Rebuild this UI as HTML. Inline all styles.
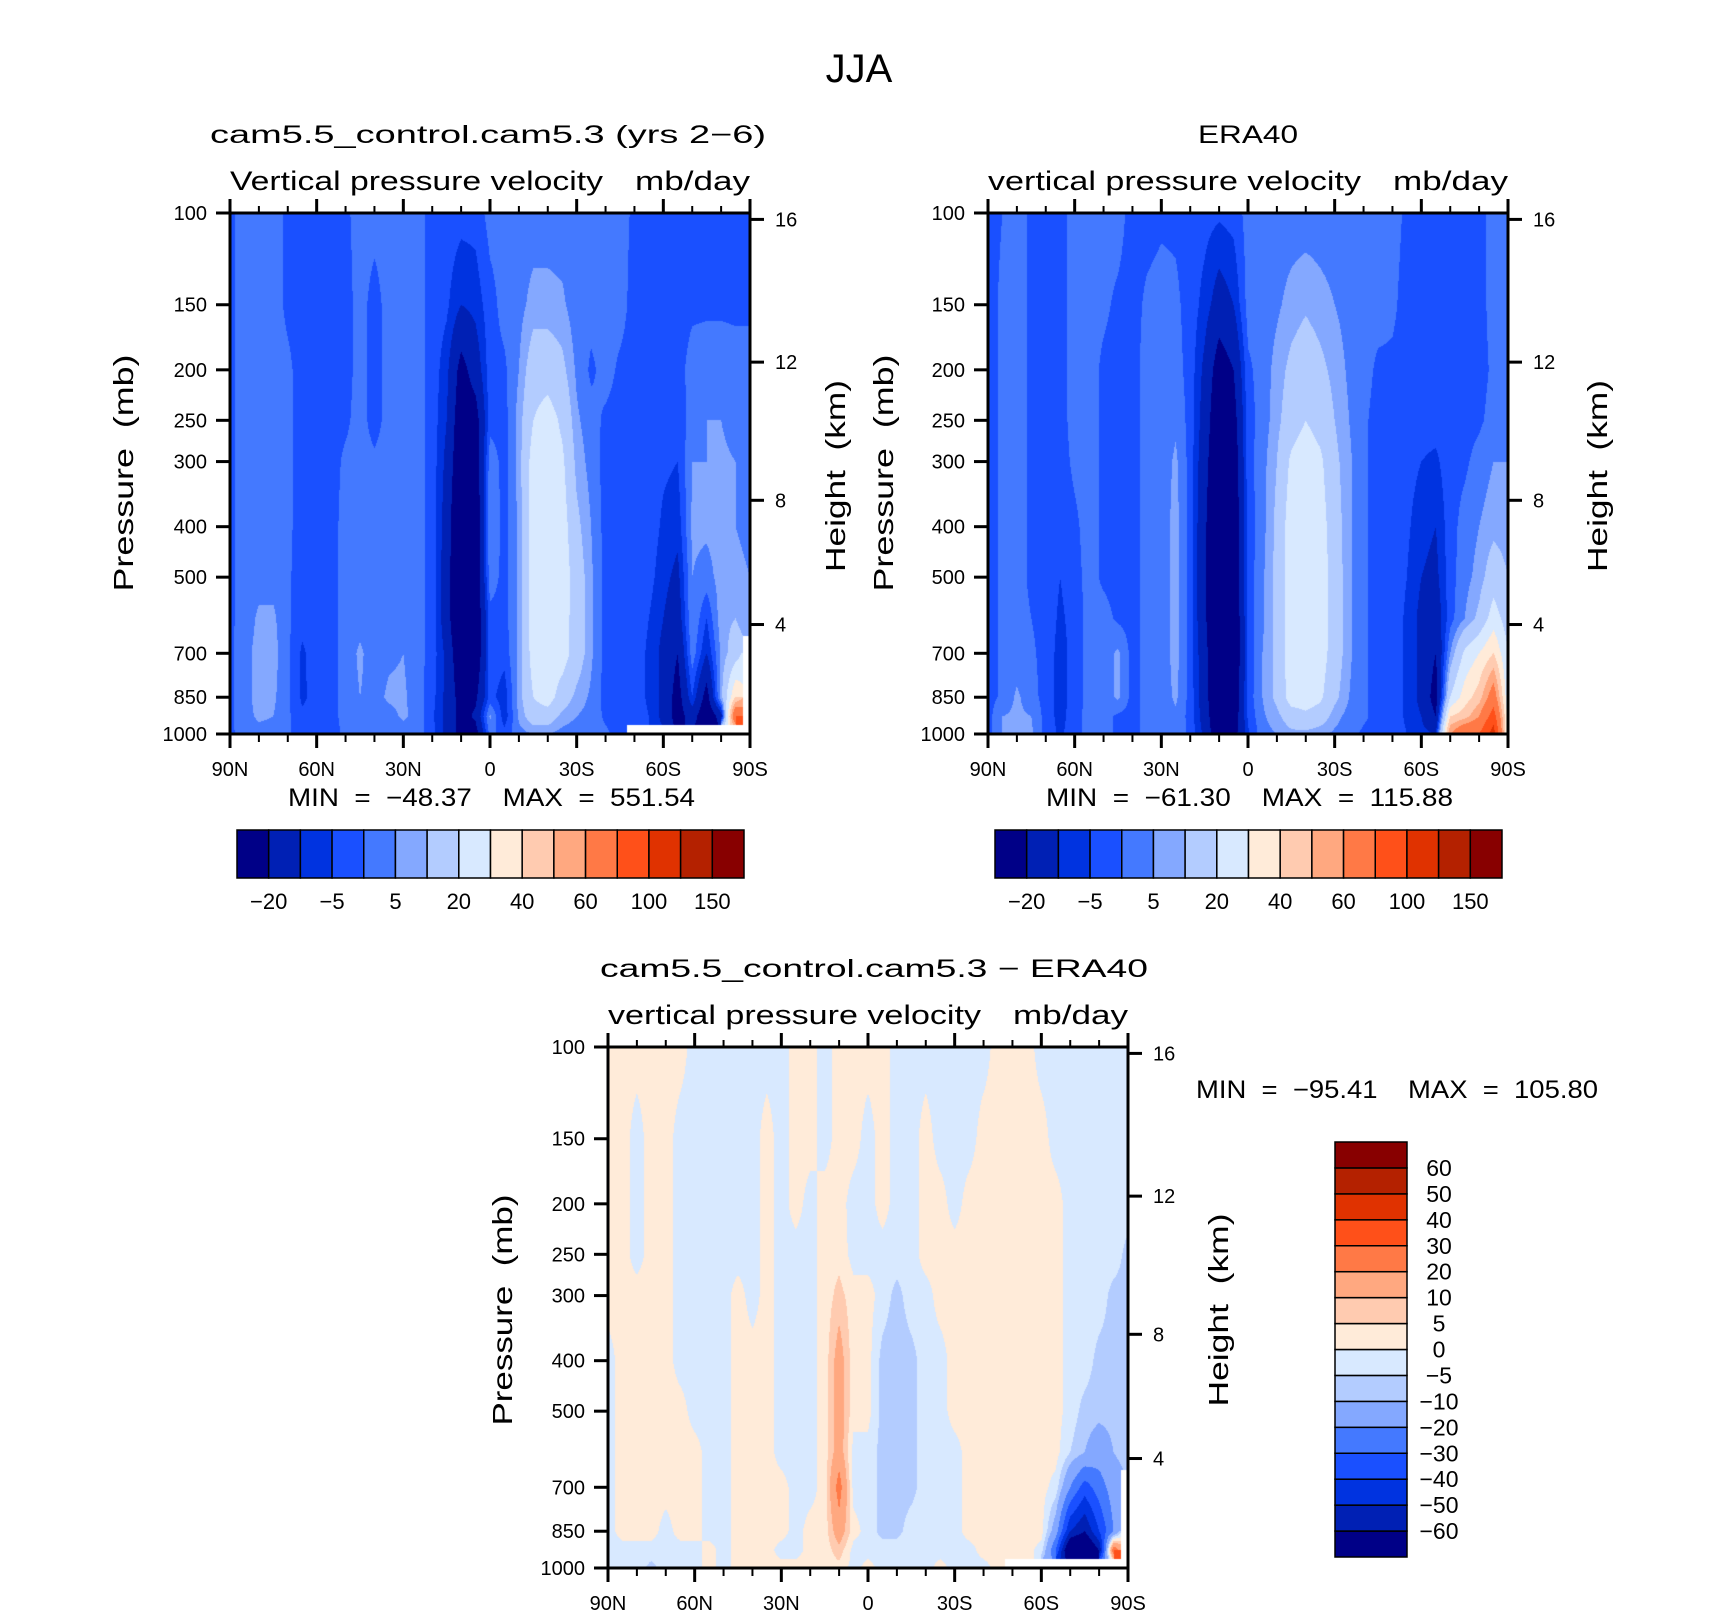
<!DOCTYPE html>
<html><head><meta charset="utf-8"><style>
html,body{margin:0;padding:0;background:#fff;}
#wrap{position:relative;width:1710px;height:1616px;overflow:hidden;background:#fff;}
canvas{position:absolute;}
svg{position:absolute;left:0;top:0;}
text{font-family:"Liberation Sans",sans-serif;fill:#000;white-space:pre;}
</style></head><body>
<div id="wrap">
<canvas id="c1" width="520" height="521" style="left:230px;top:213px"></canvas>
<canvas id="c2" width="520" height="521" style="left:988px;top:213px"></canvas>
<canvas id="c3" width="520" height="521" style="left:608px;top:1047px"></canvas>
<svg id="svg" width="1710" height="1616" xmlns="http://www.w3.org/2000/svg">
<text x="859" y="82" font-size="40" text-anchor="middle">JJA</text>
<text x="210" y="143" font-size="25" textLength="556" lengthAdjust="spacingAndGlyphs">cam5.5_control.cam5.3 (yrs 2−6)</text>
<text x="230" y="190" font-size="27" textLength="373" lengthAdjust="spacingAndGlyphs">Vertical pressure velocity</text>
<text x="635" y="190" font-size="27" textLength="115" lengthAdjust="spacingAndGlyphs">mb/day</text>
<text x="1248" y="143" font-size="25" text-anchor="middle" textLength="100" lengthAdjust="spacingAndGlyphs">ERA40</text>
<text x="988" y="190" font-size="27" textLength="373" lengthAdjust="spacingAndGlyphs">vertical pressure velocity</text>
<text x="1393" y="190" font-size="27" textLength="115" lengthAdjust="spacingAndGlyphs">mb/day</text>
<text x="600" y="977" font-size="25" textLength="548" lengthAdjust="spacingAndGlyphs">cam5.5_control.cam5.3 − ERA40</text>
<text x="608" y="1024" font-size="27" textLength="373" lengthAdjust="spacingAndGlyphs">vertical pressure velocity</text>
<text x="1013" y="1024" font-size="27" textLength="115" lengthAdjust="spacingAndGlyphs">mb/day</text>
<text x="288" y="806" font-size="25" textLength="407" lengthAdjust="spacingAndGlyphs" xml:space="preserve">MIN  =  −48.37    MAX  =  551.54</text>
<text x="1046" y="806" font-size="25" textLength="407" lengthAdjust="spacingAndGlyphs" xml:space="preserve">MIN  =  −61.30    MAX  =  115.88</text>
<text x="1196" y="1098" font-size="25" textLength="402" lengthAdjust="spacingAndGlyphs" xml:space="preserve">MIN  =  −95.41    MAX  =  105.80</text>
<text transform="translate(133,473) rotate(-90)" font-size="28" text-anchor="middle" textLength="237" lengthAdjust="spacingAndGlyphs" xml:space="preserve">Pressure  (mb)</text>
<text transform="translate(845,476) rotate(-90)" font-size="28" text-anchor="middle" textLength="192" lengthAdjust="spacingAndGlyphs" xml:space="preserve">Height  (km)</text>
<text transform="translate(893,473) rotate(-90)" font-size="28" text-anchor="middle" textLength="237" lengthAdjust="spacingAndGlyphs" xml:space="preserve">Pressure  (mb)</text>
<text transform="translate(1607,476) rotate(-90)" font-size="28" text-anchor="middle" textLength="192" lengthAdjust="spacingAndGlyphs" xml:space="preserve">Height  (km)</text>
<text transform="translate(512,1310) rotate(-90)" font-size="28" text-anchor="middle" textLength="231" lengthAdjust="spacingAndGlyphs" xml:space="preserve">Pressure  (mb)</text>
<text transform="translate(1228,1310) rotate(-90)" font-size="28" text-anchor="middle" textLength="193" lengthAdjust="spacingAndGlyphs" xml:space="preserve">Height  (km)</text>
</svg>
</div>
<script>
const LEVELS=[1000,925,850,700,600,500,400,300,250,200,150,100];
const LATITUDES=[90,85,80,75,70,65,60,55,50,45,40,35,30,25,20,15,10,5,0,-5,-10,-15,-20,-25,-30,-35,-40,-45,-50,-55,-60,-65,-70,-75,-80,-85,-90];
const N=NaN;
// each column: values at LEVELS (1000 -> 100 mb), mb/day
const modelField=[
[-1,-1,-1,-1,-1,-1,-1,-1,-1,-1,-1,-1],
[2,3,3,3,2,2,2,2,2,2,2,2],
[3,6,7,7,6,3,2,2,2,2,2,2],
[3,5,6,7,6,3,2,2,2,2,2,2],
[1,1,1,1,1,1,1,1,1,1,-1,-1],
[-3,-4,-6,-6,-3,-3,-2,-2,-2,-2,-2,-3],
[-2,-3,-3,-2,-2,-2,-2,-2,-2,-2,-2,-2],
[-2,-2,-2,-2,-2,-2,-2,-2,-2,-2,-2,-2],
[1,2,2,2,2,2,2,1,-1,-2,-2,-1],
[2,3,5,6,3,2,2,2,2,2,2,2],
[2,2,3,2,2,2,2,1,-2,-2,-2,2],
[2,3,6,4,3,2,2,2,2,2,2,2],
[2,6,6,5,3,2,2,2,2,2,2,2],
[2,3,2,2,2,2,2,2,2,2,2,2],
[-3,-4,-3,-2,-2,-2,-2,-2,-2,-2,-2,-2],
[-12,-12,-12,-12,-15,-15,-14,-12,-10,-8,-4,-2],
[-25,-25,-25,-30,-35,-35,-35,-30,-28,-24,-10,-3],
[-25,-18,-22,-30,-30,-30,-30,-28,-25,-15,-8,-3],
[2,6,-3,-2,-2,3,5,3,-2,-2,-2,2],
[-3,-8,-8,-3,-2,-2,-2,-2,-2,-1,2,2],
[3,6,7,6,6,6,6,7,7,5,3,2],
[5,15,20,25,26,26,26,25,20,15,7,2],
[5,15,25,25,26,26,26,26,25,15,7,2],
[3,8,15,25,25,26,25,22,18,12,6,2],
[2,5,8,15,15,15,12,8,6,4,2,2],
[2,3,4,6,6,6,5,3,2,-1,2,2],
[1,-1,-2,-2,-2,-2,-2,-2,-1,2,2,2],
[-2,-2,-2,-2,-2,-2,-2,-2,-2,-1,2,2],
[N,-2,-2,-2,-2,-2,-2,-2,-2,-2,-2,-1],
[N,-5,-6,-6,-5,-3,-2,-2,-2,-2,-2,-2],
[N,-12,-12,-12,-10,-8,-6,-4,-2,-2,-2,-2],
[N,-25,-25,-20,-15,-12,-8,-5,-3,-2,-2,-2],
[N,-15,-5,3,5,5,6,5,2,2,-1,-2],
[N,-30,-25,-10,-5,3,6,5,5,3,-1,-2],
[N,-15,8,6,8,7,7,6,5,3,-1,-2],
[N,80,40,15,10,6,5,5,3,2,-1,-2],
[N,N,N,N,5,5,4,3,2,2,-1,-2]
];
const eraField=[
[-2,-2,-2,-2,-2,-2,-2,-2,-2,-2,-2,-2],
[5,5,1,1,1,1,1,1,1,1,1,0],
[7,6,6,2,2,2,2,2,2,2,2,2],
[6,5,2,1,0,-1,-1,-1,-1,-1,-1,-1],
[-2,-2,-2,-2,-2,-2,-2,-2,-2,-2,-2,-2],
[-6,-7,-7,-7,-6,-5,-3,-2,-2,-2,-2,-2],
[-2,-2,-3,-3,-3,-2,-1,1,2,2,2,2],
[2,2,2,2,2,2,2,2,2,2,2,2],
[2,2,2,2,2,-1,-1,-1,-1,-1,1,2],
[-1,-1,6,6,-1,-2,-2,-2,-2,-2,-1,2],
[-2,-2,-2,-2,-2,-2,-2,-2,-2,-2,-2,-2],
[2,2,2,2,2,2,2,2,2,2,1,-2],
[2,2,2,2,2,2,2,2,2,2,2,-1],
[3,4,6,7,7,7,7,6,4,2,1,-1],
[-1,-2,-2,-2,-2,-2,-2,-2,-2,-2,-2,-2],
[-12,-14,-15,-16,-18,-18,-18,-16,-14,-12,-7,-3],
[-30,-32,-35,-35,-35,-35,-35,-32,-30,-26,-14,-4],
[-25,-28,-30,-32,-32,-30,-30,-28,-25,-20,-10,-3],
[-6,-4,-3,-4,-3,-3,-3,-2,-2,-1,2,2],
[3,4,5,5,4,4,3,3,2,2,2,2],
[5,8,12,12,12,12,12,10,8,7,4,2],
[8,15,25,26,26,26,26,22,15,12,7,2],
[8,18,25,26,26,26,26,26,20,15,9,2],
[6,15,22,25,26,26,25,22,16,12,7,2],
[4,7,12,15,15,15,14,12,10,8,5,2],
[2,3,5,6,6,6,6,6,5,4,3,2],
[-1,1,1,1,1,1,1,1,1,2,2,2],
[-2,-2,-2,-2,-2,-2,-2,-2,-2,-1,2,2],
[-2,-2,-2,-2,-2,-2,-2,-2,-2,-1,1,2],
[-5,-6,-6,-6,-6,-5,-4,-3,-2,-2,-2,-1],
[-8,-10,-12,-12,-12,-10,-8,-5,-3,-2,-2,-2],
[-10,-20,-25,-20,-15,-12,-10,-6,-3,-2,-2,-2],
[60,40,20,5,-2,-2,-2,-2,-2,-2,-2,-2],
[80,45,35,22,5,3,2,-1,-2,-2,-2,-2],
[80,60,45,30,12,7,5,2,-1,-2,-2,-2],
[110,90,70,40,25,15,8,5,2,1,2,2],
[25,25,22,20,15,10,7,5,2,1,2,2]
];
const diffField=[
[-2,-2,-2,-2,-2,-2,-2,2,2,2,2,2],
[-2,-2,2,2,2,2,2,2,2,2,2,2],
[-2,-2,2,2,2,2,2,2,-2,-2,-2,2],
[-7,-2,2,2,2,2,2,2,2,2,2,2],
[-2,-2,-2,2,2,2,2,2,2,2,2,2],
[-2,-2,2,2,2,2,-2,-2,-2,-2,-2,2],
[-2,-2,2,2,2,-2,-2,-2,-2,-2,-2,-2],
[2,2,-2,-2,-2,-2,-2,-2,-2,-2,-2,-2],
[-2,-2,-2,-2,-2,-2,-2,-2,-2,-2,-2,-2],
[2,2,2,2,2,2,2,2,-2,-2,-2,-2],
[2,2,2,2,2,2,2,-2,-2,-2,-2,-2],
[2,2,2,2,2,2,2,2,2,2,2,-2],
[2,-2,2,2,-2,-2,-2,-2,-2,-2,-2,-2],
[2,-2,-2,-2,-2,-2,-2,-2,-2,2,2,2],
[2,2,2,-2,-2,-2,-2,-2,-2,-2,2,2],
[2,2,2,2,2,2,2,2,2,2,-2,-2],
[3,8,15,25,15,14,14,7,3,2,2,2],
[-2,-2,2,-2,-2,2,2,2,-2,-2,2,2],
[2,-2,-2,-2,-2,2,2,2,-2,-2,-2,2],
[-2,-2,-7,-7,-7,-7,-7,-2,-2,2,2,2],
[-2,-2,-7,-8,-8,-8,-8,-7,-2,-2,-2,-2],
[-2,-2,-2,-7,-7,-7,-7,-2,-2,-2,-2,-2],
[-2,-2,-2,-2,-2,-2,-2,-2,2,2,2,-2],
[2,-2,-2,-2,-2,-2,-2,2,2,2,-2,-2],
[-2,-2,-2,-2,-2,2,2,2,2,-2,-2,-2],
[-2,-2,2,2,2,2,2,2,2,2,-2,-2],
[-2,2,2,2,2,2,2,2,2,2,2,-2],
[2,2,2,2,2,2,2,2,2,2,2,2],
[N,2,2,2,2,2,2,2,2,2,2,2],
[N,2,2,2,2,2,2,2,2,2,2,2],
[N,-2,2,2,2,2,2,2,2,2,2,-2],
[N,-30,-15,-2,2,2,2,2,2,2,-2,-2],
[N,-80,-50,-20,-5,-2,-2,-2,-2,-2,-2,-2],
[N,-80,-60,-35,-10,-7,-2,-2,-2,-2,-2,-2],
[N,-60,-40,-25,-15,-8,-7,-2,-2,-2,-2,-2],
[N,30,-20,-15,-10,-8,-7,-7,-2,-2,-2,-2],
[N,N,N,N,-7,-7,-7,-7,-7,-2,-2,-2]
];
const absBounds=[-20,-10,-5,0,5,10,20,30,40,50,60,80,100,125,150];
const diffBounds=[-60,-50,-40,-30,-20,-10,-5,0,5,10,20,30,40,50,60];
const COLORS=["#000087","#0020b4","#0033e0","#1a50ff","#4479ff","#84a8ff","#b3ccff","#d8e9ff","#ffebd9","#ffcbb0","#ffa880","#ff7946","#ff5019","#e03200","#b42100","#880000"];
const pressureTicks=[100,150,200,250,300,400,500,700,850,1000];
const heightTicks=[4,8,12,16];
const latMajorTicks=[90,60,30,0,-30,-60,-90];
const latMinorTicks=[80,70,50,40,20,10,-10,-20,-40,-50,-70,-80];

const NS="http://www.w3.org/2000/svg";
const svg=document.getElementById('svg');
function hexToRgb(h){return [parseInt(h.substr(1,2),16),parseInt(h.substr(3,2),16),parseInt(h.substr(5,2),16)];}
const RGB=COLORS.map(hexToRgb);
const LK=LEVELS.map(l=>Math.log10(1000/l));
function colorIndex(v,bounds){let i=0;while(i<bounds.length&&v>=bounds[i])i++;return i;}

function renderField(canvas,field,bounds){
  const W=canvas.width,H=canvas.height,ctx=canvas.getContext('2d');
  const img=ctx.createImageData(W,H);const nl=LATITUDES.length-1;
  for(let py=0;py<H;py++){
    const f=1-(py+0.5)/H;
    let k=0;while(k<LK.length-2&&f>LK[k+1])k++;
    const tk=Math.min(1,Math.max(0,(f-LK[k])/(LK[k+1]-LK[k])));
    for(let px=0;px<W;px++){
      const lp=(px+0.5)/W*nl;let i=Math.min(nl-1,Math.floor(lp));const ti=lp-i;
      const ni=Math.round(lp),nk=tk<0.5?k:k+1;
      const o=(py*W+px)*4;
      if(isNaN(field[ni][nk])){img.data[o]=255;img.data[o+1]=255;img.data[o+2]=255;img.data[o+3]=255;continue;}
      let c=[field[i][k],field[i+1][k],field[i][k+1],field[i+1][k+1]];
      const good=c.filter(x=>!isNaN(x));const avg=good.reduce((a,b)=>a+b,0)/good.length;
      c=c.map(x=>isNaN(x)?avg:x);
      const v=(c[0]*(1-ti)+c[1]*ti)*(1-tk)+(c[2]*(1-ti)+c[3]*ti)*tk;
      const rgb=RGB[colorIndex(v,bounds)];
      img.data[o]=rgb[0];img.data[o+1]=rgb[1];img.data[o+2]=rgb[2];img.data[o+3]=255;
    }
  }
  ctx.putImageData(img,0,0);
}
renderField(document.getElementById('c1'),modelField,absBounds);
renderField(document.getElementById('c2'),eraField,absBounds);
renderField(document.getElementById('c3'),diffField,diffBounds);

function el(tag,attrs,parent){const e=document.createElementNS(NS,tag);for(const k in attrs)e.setAttribute(k,attrs[k]);(parent||svg).appendChild(e);return e;}
function latLabel(l){return l===0?"0":Math.abs(l)+(l>0?"N":"S");}
function stdAtmP(zkm){const z=zkm*1000;if(z<=11000)return 1013.25*Math.pow(1-2.25577e-5*z,5.25588);return 226.32*Math.exp(-(z-11000)/6341.6);}

function drawAxes(P,prefix){
  const xs=lat=>P.x+(90-lat)/180*P.w;
  const ys=p=>P.y+P.h-Math.log10(1000/p)*P.h;
  const g=el('g',{});
  
  
  latMajorTicks.forEach(l=>{
    const x=xs(l);
    const t1=el('line',{x1:x,x2:x,y1:P.y+P.h,y2:P.y+P.h+14,stroke:'#000','stroke-width':3},g);
    
    
    const t2=el('line',{x1:x,x2:x,y1:P.y,y2:P.y-14,stroke:'#000','stroke-width':3},g);
    
    
    const tx=el('text',{x:x,y:P.y+P.h+42,'font-size':20,'text-anchor':'middle'},g);
    tx.textContent=latLabel(l);
    
    
  });
  latMinorTicks.forEach(l=>{
    const x=xs(l);
    const t1=el('line',{x1:x,x2:x,y1:P.y+P.h,y2:P.y+P.h+8,stroke:'#000','stroke-width':2},g);
    
    
    const t2=el('line',{x1:x,x2:x,y1:P.y,y2:P.y-7,stroke:'#000','stroke-width':2},g);
    
    
  });
  pressureTicks.forEach(p=>{
    const y=ys(p);
    const t=el('line',{x1:P.x-14,x2:P.x,y1:y,y2:y,stroke:'#000','stroke-width':3},g);
    
    
    const tx=el('text',{x:P.x-23,y:y+7,'font-size':20,'text-anchor':'end'},g);
    tx.textContent=String(p);
    
    
  });
  heightTicks.forEach(z=>{
    const y=ys(stdAtmP(z));
    const t=el('line',{x1:P.x+P.w,x2:P.x+P.w+14,y1:y,y2:y,stroke:'#000','stroke-width':3},g);
    
    
    const tx=el('text',{x:P.x+P.w+25,y:y+7,'font-size':20},g);
    tx.textContent=String(z);
    
    
  });
  const r=el('rect',{x:P.x,y:P.y,width:P.w,height:P.h,fill:'none',stroke:'#000','stroke-width':3},g);
  
  
}
drawAxes({x:230,y:213,w:520,h:521},'model');
drawAxes({x:988,y:213,w:520,h:521},'era40');
drawAxes({x:608,y:1047,w:520,h:521},'difference');

function hColorbar(x,y,w,h,bounds,prefix){
  const n=COLORS.length,bw=w/n;
  const g=el('g',{});
  
  
  COLORS.forEach((c,i)=>{
    const r=el('rect',{x:x+i*bw,y:y,width:bw,height:h,fill:c,stroke:'#000','stroke-width':1.5},g);
    
    
  });
  bounds.forEach((b,i)=>{
    if(i%2!==0)return;
    const t=el('text',{x:x+(i+1)*bw,y:y+h+31,'font-size':22,'text-anchor':'middle'},g);
    t.textContent=String(b).replace('-','−');
    
    
  });
}
hColorbar(237,830,507,48,absBounds,'model');
hColorbar(995,830,507,48,absBounds,'era40');

(function(){
  const x=1335,y=1142,w=72,h=415,n=COLORS.length,bh=h/n;
  const g=el('g',{});
  
  
  COLORS.forEach((c,i)=>{
    const r=el('rect',{x:x,y:y+h-(i+1)*bh,width:w,height:bh,fill:c,stroke:'#000','stroke-width':1.5},g);
    
    
  });
  diffBounds.forEach((b,i)=>{
    const t=el('text',{x:1439,y:y+h-(i+1)*bh+8,'font-size':23,'text-anchor':'middle'},g);
    t.textContent=String(b).replace('-','−');
    
    
  });
})();
</script>
</body></html>
